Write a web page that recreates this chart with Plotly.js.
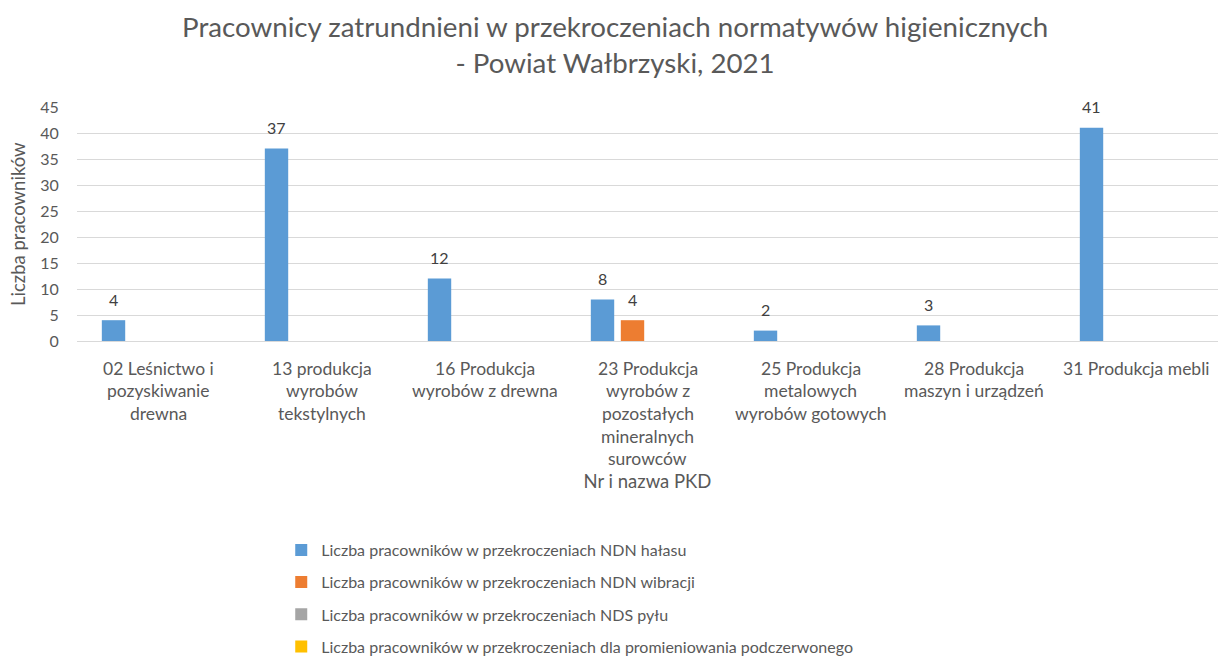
<!DOCTYPE html>
<html><head><meta charset="utf-8">
<script src="https://cdn.plot.ly/plotly-3.0.1.min.js"></script>
<style>html,body{margin:0;padding:0;background:#fff}#chart{width:1218px;height:663px}</style>
</head><body><div id="chart"></div>
<script>
const categoryLines = [
  ["02 Leśnictwo i", "pozyskiwanie", "drewna"],
  ["13 produkcja", "wyrobów", "tekstylnych"],
  ["16 Produkcja", "wyrobów z drewna"],
  ["23 Produkcja", "wyrobów z", "pozostałych", "mineralnych", "surowców"],
  ["25 Produkcja", "metalowych", "wyrobów gotowych"],
  ["28 Produkcja", "maszyn i urządzeń"],
  ["31 Produkcja mebli"]
];
const categories = categoryLines.map(l => l.join(" "));
const seriesNames = [
  "Liczba pracowników w przekroczeniach NDN hałasu",
  "Liczba pracowników w przekroczeniach NDN wibracji",
  "Liczba pracowników w przekroczeniach NDS pyłu",
  "Liczba pracowników w przekroczeniach dla promieniowania podczerwonego"
];
const halas = [4, 37, 12, 8, 2, 3, 41];
const wibracje = [0, 0, 0, 4, 0, 0, 0];
const pyl = [0, 0, 0, 0, 0, 0, 0];
const podczerwien = [0, 0, 0, 0, 0, 0, 0];
const seriesValues = [halas, wibracje, pyl, podczerwien];
const colors = ["#5B9BD5", "#ED7D31", "#A5A5A5", "#FFC000"];
const yAxisTitle = "Liczba pracowników";
const xAxisTitle = "Nr i nazwa PKD";

const FONT = "Lato, 'Open Sans', sans-serif";
const TXT = "#595959";

const W = 1218, H = 663;
const M = {l: 77, r: 0, t: 107, b: 322};
const BARGAP = 0.264, BARGROUPGAP = 0.22;
const plotW = W - M.l - M.r;
const catWidthPx = plotW / categories.length;
const slotPx = catWidthPx * (1 - BARGAP) / seriesValues.length;

const traces = seriesValues.map((vals, i) => ({
  type: "bar",
  name: seriesNames[i],
  x: categories,
  y: vals,
  marker: {color: colors[i], line: {width: 0}},
  legendgroup: "g" + i,
  hoverinfo: "x+y+name"
}));

const annotations = [];
categoryLines.forEach((lines, ci) => {
  lines.forEach((line, li) => {
    annotations.push({
      x: categories[ci], xref: "x", y: 0, yref: "paper",
      yanchor: "middle", xanchor: "center",
      yshift: -27 - li * 22.7,
      text: line, showarrow: false,
      font: {family: FONT, size: 17.5, color: TXT}
    });
  });
});
// data labels above bars (non-zero values only)
seriesValues.forEach((vals, si) => {
  vals.forEach((v, ci) => {
    if (!v) return;
    annotations.push({
      x: categories[ci], xref: "x", y: v, yref: "y",
      xanchor: "center", yanchor: "middle",
      xshift: (si - (seriesValues.length - 1) / 2) * slotPx,
      yshift: 21,
      text: String(v), showarrow: false,
      font: {family: FONT, size: 16, color: "#404040"}
    });
  });
});
// y-axis title
annotations.push({
  text: yAxisTitle, textangle: -90, showarrow: false,
  xref: "paper", x: (18 - M.l) / plotW, xanchor: "center",
  yref: "paper", y: 0.5, yanchor: "middle",
  font: {family: FONT, size: 18.5, color: TXT}
});

const layout = {
  width: W, height: H,
  paper_bgcolor: "#fff", plot_bgcolor: "#fff",
  font: {family: FONT, color: TXT},
  margin: Object.assign({autoexpand: false}, M),
  title: {
    text: "Pracownicy zatrundnieni w przekroczeniach normatywów higienicznych<br>- Powiat Wałbrzyski, 2021",
    font: {family: FONT, size: 27.7, color: TXT},
    x: 0.505, xanchor: "center", y: 1 - 37 / 663, yanchor: "middle", yref: "container"
  },
  barmode: "group",
  bargap: BARGAP,
  bargroupgap: BARGROUPGAP,
  xaxis: {
    type: "category",
    showticklabels: false,
    ticks: "",
    showline: false,
    showgrid: false,
    title: {text: xAxisTitle, font: {family: FONT, size: 18.5, color: TXT}, standoff: 134},
    automargin: false
  },
  yaxis: {
    range: [0, 45],
    dtick: 5,
    gridcolor: "#D9D9D9",
    gridwidth: 1,
    zeroline: true,
    zerolinecolor: "#D9D9D9",
    zerolinewidth: 1,
    showline: false,
    ticks: "outside",
    ticklen: 14,
    tickcolor: "rgba(0,0,0,0)",
    tickfont: {family: FONT, size: 16, color: TXT},
    automargin: false
  },
  showlegend: true,
  legend: {
    orientation: "v",
    xref: "container", yref: "container",
    x: 0.2309, xanchor: "left",
    y: 1 - 533 / 663, yanchor: "top",
    font: {family: FONT, size: 16, color: TXT},
    tracegroupgap: 8.4,
    traceorder: "grouped",
    bgcolor: "rgba(0,0,0,0)"
  },
  annotations: annotations
};

Plotly.newPlot("chart", traces, layout, {displayModeBar: false, responsive: false});
</script>
</body></html>
